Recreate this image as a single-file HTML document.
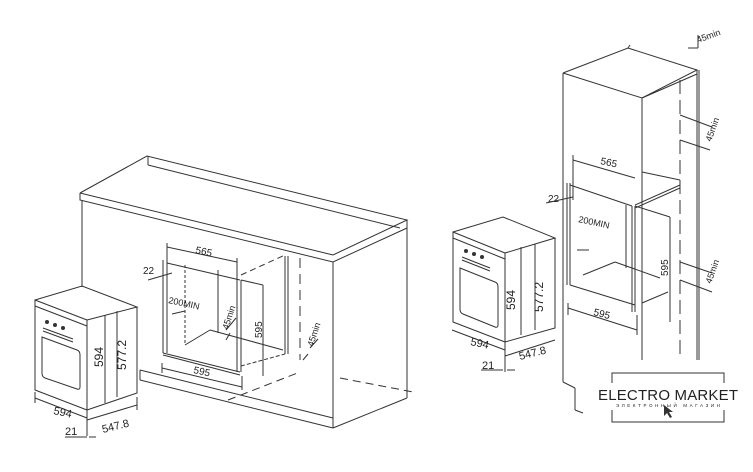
<!DOCTYPE html>
<html><head><meta charset="utf-8"><style>
html,body{margin:0;padding:0;background:#fff;}
svg{display:block}
text{font-family:"Liberation Sans",sans-serif;fill:#222}
</style></head><body>
<svg width="753" height="472" viewBox="0 0 753 472" font-size="10" xmlns="http://www.w3.org/2000/svg">
<g stroke="#333" stroke-width="1" fill="none">
<polyline points="80,193 147,156 407,220 333,255 80,193"/>
<polyline points="80,193 80,200 333,262 407,228 407,220"/>
<line x1="148" y1="156" x2="148" y2="165"/>
<line x1="148" y1="165" x2="400" y2="228"/>
<line x1="82" y1="200" x2="82" y2="287"/>
<line x1="333" y1="262" x2="333" y2="418"/>
<line x1="407" y1="228" x2="407" y2="398"/>
<line x1="333" y1="428" x2="407" y2="398"/>
<line x1="140" y1="370" x2="333" y2="418"/>
<line x1="140" y1="380" x2="333" y2="428"/>
<line x1="140" y1="370" x2="140" y2="380"/>
<line x1="333" y1="418" x2="333" y2="428"/>
<line x1="228" y1="400" x2="300" y2="372" stroke-dasharray="8,5"/>
<line x1="340" y1="378" x2="413" y2="392" stroke-dasharray="8,5"/>
<line x1="163" y1="260" x2="163" y2="353"/>
<line x1="167" y1="260" x2="167" y2="353"/>
<line x1="163" y1="353" x2="240" y2="372"/>
<line x1="163" y1="355" x2="240" y2="375"/>
<line x1="167" y1="263" x2="240" y2="280"/>
<line x1="237" y1="280" x2="237" y2="372"/>
<line x1="241" y1="280" x2="241" y2="372"/>
<line x1="185" y1="345" x2="210" y2="330"/>
<line x1="210" y1="330" x2="283" y2="350"/>
<line x1="185" y1="265" x2="185" y2="345" stroke-dasharray="3,2"/>
<line x1="218" y1="270" x2="218" y2="333"/>
<line x1="241" y1="275" x2="285" y2="255" stroke-dasharray="6,4"/>
<line x1="241" y1="280" x2="263" y2="285"/>
<line x1="263" y1="285" x2="263" y2="376"/>
<line x1="241" y1="366" x2="285" y2="354" stroke-dasharray="4,2"/>
<line x1="285" y1="256" x2="285" y2="354"/>
<line x1="288" y1="256" x2="288" y2="354"/>
<line x1="300" y1="258" x2="300" y2="360" stroke-dasharray="10,6"/>
<line x1="167" y1="247" x2="237" y2="262"/>
<line x1="167" y1="243" x2="167" y2="263"/>
<line x1="237" y1="258" x2="237" y2="280"/>
<line x1="148" y1="280" x2="172" y2="273"/>
<line x1="172" y1="314" x2="185" y2="311"/>
<line x1="162" y1="368" x2="242" y2="387"/>
<line x1="162" y1="363" x2="162" y2="373"/>
<line x1="242" y1="376" x2="242" y2="390"/>
<line x1="226" y1="330" x2="236" y2="318"/>
<line x1="226" y1="340" x2="230" y2="333"/>
<line x1="310" y1="348" x2="318" y2="339"/>
<line x1="303" y1="360" x2="308" y2="354"/>
<polygon points="35,300 87,320 87,410 35,390"/>
<line x1="35" y1="306" x2="87" y2="326"/>
<polyline points="35,300 82,286 137,307 87,320"/>
<polyline points="137,307 137,393 87,410"/>
<path d="M42,337 L77,350 Q80,351 80,355 L80,387 Q80,390 77,389 L45,378 Q42,377 42,373 Z"/>
<line x1="43" y1="328" x2="73" y2="339"/>
<line x1="43" y1="331" x2="73" y2="342"/>
<line x1="105" y1="315" x2="105" y2="403"/>
<line x1="117" y1="311" x2="117" y2="397"/>
<line x1="35" y1="398" x2="87" y2="418"/>
<line x1="35" y1="392" x2="35" y2="403"/>
<line x1="87" y1="410" x2="87" y2="436"/>
<line x1="87" y1="420" x2="137" y2="405"/>
<line x1="137" y1="397" x2="137" y2="410"/>
<line x1="65" y1="437" x2="87" y2="437"/>
<line x1="89" y1="437" x2="96" y2="437"/>
<polyline points="563,73 628,48 697,70 642,98 563,73"/>
<line x1="628" y1="48" x2="630" y2="45"/>
<line x1="563" y1="73" x2="563" y2="382"/>
<line x1="642" y1="98" x2="642" y2="360"/>
<line x1="697" y1="70" x2="697" y2="360"/>
<line x1="699" y1="70" x2="699" y2="360"/>
<line x1="680" y1="80" x2="680" y2="360" stroke-dasharray="14,6"/>
<line x1="642" y1="98" x2="697" y2="74"/>
<line x1="563" y1="382" x2="575" y2="388"/>
<line x1="575" y1="388" x2="575" y2="410"/>
<line x1="575" y1="410" x2="583" y2="413"/>
<line x1="567" y1="183" x2="567" y2="285"/>
<line x1="570" y1="183" x2="570" y2="285"/>
<line x1="570" y1="185" x2="632" y2="206"/>
<line x1="632" y1="206" x2="632" y2="312"/>
<line x1="635" y1="206" x2="635" y2="312"/>
<line x1="570" y1="285" x2="635" y2="305"/>
<line x1="583" y1="275" x2="615" y2="262"/>
<line x1="615" y1="262" x2="660" y2="278"/>
<line x1="626" y1="205" x2="626" y2="268"/>
<line x1="642" y1="172" x2="680" y2="180"/>
<line x1="680" y1="180" x2="680" y2="185"/>
<line x1="635" y1="205" x2="680" y2="185"/>
<line x1="635" y1="208" x2="680" y2="188"/>
<line x1="635" y1="206" x2="670" y2="217"/>
<line x1="670" y1="217" x2="670" y2="322"/>
<line x1="642" y1="303" x2="668" y2="292"/>
<line x1="577" y1="250" x2="589" y2="250"/>
<line x1="573" y1="160" x2="635" y2="178"/>
<line x1="573" y1="155" x2="573" y2="200"/>
<line x1="546" y1="203" x2="573" y2="197"/>
<line x1="568" y1="308" x2="637" y2="330"/>
<line x1="568" y1="303" x2="568" y2="315"/>
<line x1="637" y1="315" x2="637" y2="335"/>
<line x1="680" y1="140" x2="710" y2="150"/>
<line x1="680" y1="115" x2="712" y2="127"/>
<line x1="680" y1="280" x2="712" y2="292"/>
<line x1="680" y1="262" x2="712" y2="273"/>
<line x1="688" y1="48" x2="698" y2="48"/>
<line x1="698" y1="35" x2="698" y2="48"/>
<polygon points="453,232 505,253 505,342 453,322"/>
<line x1="453" y1="238" x2="505" y2="259"/>
<polyline points="453,232 503,217 555,238 505,253"/>
<polyline points="555,238 555,328 505,342"/>
<path d="M460,268 L495,282 Q498,283 498,287 L498,325 Q498,328 495,327 L463,314 Q460,313 460,309 Z"/>
<line x1="462" y1="257" x2="490" y2="268"/>
<line x1="462" y1="260" x2="490" y2="271"/>
<line x1="521" y1="247" x2="521" y2="335"/>
<line x1="535" y1="244" x2="535" y2="330"/>
<line x1="452" y1="330" x2="505" y2="350"/>
<line x1="505" y1="342" x2="505" y2="372"/>
<line x1="505" y1="356" x2="555" y2="340"/>
<line x1="481" y1="370" x2="503" y2="370"/>
<line x1="507" y1="370" x2="515" y2="370"/>
<polyline points="612,383 612,373 724,373 724,383"/>
<polyline points="612,410 612,422 724,422 724,410"/>
</g>
<g fill="#333">
<circle cx="47" cy="322" r="2"/><circle cx="55" cy="325" r="2"/><circle cx="63" cy="328" r="2"/>
<circle cx="466" cy="251" r="2"/><circle cx="474" cy="254" r="2"/><circle cx="482" cy="257" r="2"/>
<path d="M664,405 L664,416 L667,413 L670,418 L672,417 L669,412 L673,412 Z"/>
</g>
<text x="195" y="253" transform="rotate(12 195 253)">565</text>
<text x="143" y="274">22</text>
<text x="168" y="303" transform="rotate(12 168 303)" font-size="9">200MIN</text>
<text x="228" y="330" transform="rotate(-72 228 330)" font-size="9">45min</text>
<text x="262" y="338" transform="rotate(-90 262 338)">595</text>
<text x="193" y="373" transform="rotate(12 193 373)">595</text>
<text x="313" y="347" transform="rotate(-72 313 347)" font-size="9">45min</text>
<text x="103" y="367" transform="rotate(-90 103 367)" font-size="12">594</text>
<text x="126" y="370" transform="rotate(-90 126 370)" font-size="12">577.2</text>
<text x="53" y="414" transform="rotate(12 53 414)" font-size="11">594</text>
<text x="103" y="433" transform="rotate(-14 103 433)" font-size="11">547.8</text>
<text x="65" y="435" font-size="11">21</text>
<text x="600" y="164" transform="rotate(12 600 164)">565</text>
<text x="548" y="202">22</text>
<text x="578" y="222" transform="rotate(12 578 222)" font-size="9">200MIN</text>
<text x="668" y="276" transform="rotate(-90 668 276)">595</text>
<text x="593" y="315" transform="rotate(14 593 315)">595</text>
<text x="711" y="142" transform="rotate(-70 711 142)" font-size="9">45min</text>
<text x="711" y="284" transform="rotate(-70 711 284)" font-size="9">45min</text>
<text x="698" y="43" transform="rotate(-20 698 43)" font-size="9">45min</text>
<text x="515" y="310" transform="rotate(-90 515 310)" font-size="12">594</text>
<text x="543" y="312" transform="rotate(-90 543 312)" font-size="12">577.2</text>
<text x="470" y="345" transform="rotate(12 470 345)" font-size="11">594</text>
<text x="520" y="360" transform="rotate(-14 520 360)" font-size="11">547.8</text>
<text x="482" y="369" font-size="11">21</text>
<text x="598" y="400" font-size="15" textLength="140" lengthAdjust="spacing" fill="#111">ELECTRO MARKET</text>
<text x="616" y="407" font-size="4.5" textLength="104" lengthAdjust="spacing">ЭЛЕКТРОННЫЙ МАГАЗИН</text>
</svg>
</body></html>
